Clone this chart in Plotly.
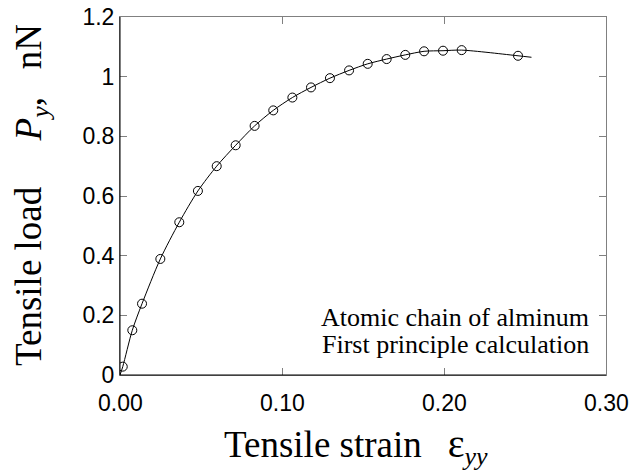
import plotly.graph_objects as go

# Data
strain = [0.0017, 0.0076, 0.0136, 0.0249, 0.0366, 0.0481, 0.0597, 0.0714,
          0.0831, 0.0946, 0.1064, 0.1179, 0.1296, 0.1414, 0.1529, 0.1646,
          0.1761, 0.1877, 0.1994, 0.2109, 0.2457]
load = [0.028, 0.150, 0.239, 0.389, 0.512, 0.617, 0.700, 0.770,
        0.835, 0.887, 0.930, 0.964, 0.995, 1.021, 1.043, 1.059,
        1.073, 1.085, 1.087, 1.089, 1.070]

# Smooth fitted curve: starts at origin, runs through the points, extends a bit past the last one
fit_start = (0.0, 0.0)
fit_end = (0.254, 1.065)
fit_strain = [fit_start[0]] + strain + [fit_end[0]]
fit_load = [fit_start[1]] + load + [fit_end[1]]

x_ticks = [0.0, 0.1, 0.2, 0.3]
x_tick_text = ["0.00", "0.10", "0.20", "0.30"]
y_ticks = [0, 0.2, 0.4, 0.6, 0.8, 1.0, 1.2]
y_tick_text = ["0", "0.2", "0.4", "0.6", "0.8", "1", "1.2"]

NB = "\u00a0"
x_title = ("Tensile strain" + NB * 2 + "\u2009"
           + "<span style='font-size:40px'>ε</span><sub><i>yy</i></sub>")
y_title = "Tensile load" + NB * 5 + "<i>P<sub>y</sub></i>," + NB * 3 + "nN"
note_lines = ["Atomic chain of alminum", "First principle calculation"]

fig = go.Figure()
fig.add_trace(go.Scatter(x=fit_strain, y=fit_load, mode="lines",
                         line=dict(color="black", width=1, shape="spline", smoothing=0.8),
                         hoverinfo="skip", showlegend=False))
fig.add_trace(go.Scatter(x=strain, y=load, mode="markers",
                         marker=dict(symbol="circle-open", size=9, color="black",
                                     line=dict(width=1, color="black")),
                         showlegend=False))

tick_font = dict(family="Liberation Sans, Arial, sans-serif", size=23, color="black")
common = dict(showgrid=False, zeroline=False, ticks="inside", ticklen=7,
              tickcolor="#808080", tickwidth=1, automargin=False,
              showline=True, linecolor="#808080", linewidth=1, mirror="ticks",
              tickfont=tick_font, ticklabeloverflow="allow")

fig.update_layout(
    template="none",
    width=635, height=464,
    margin=dict(l=112, r=37, t=9, b=97, autoexpand=False),
    paper_bgcolor="white", plot_bgcolor="white",
    xaxis=dict(range=[0, 0.3], tickvals=x_ticks, showticklabels=False, **common),
    yaxis=dict(range=[0, 1.2], tickvals=y_ticks, ticktext=y_tick_text, **common),
    font=dict(family="Liberation Serif, Times New Roman, serif", color="black"),
    showlegend=False,
)

# black left and bottom frame edges (top/right stay grey)
fig.add_shape(type="line", xref="paper", yref="paper", x0=0, y0=0, x1=0, y1=1,
              line=dict(color="black", width=1), layer="above")
fig.add_shape(type="line", xref="paper", yref="paper", x0=0, y0=0, x1=1, y1=0,
              line=dict(color="black", width=1), layer="above")

# x tick labels, placed a little further below the axis than plotly's default
for v, t in zip(x_ticks, x_tick_text):
    fig.add_annotation(text=t, xref="x", yref="paper", x=v, y=0,
                       xanchor="center", yanchor="middle", yshift=-28,
                       showarrow=False, font=tick_font)

serif = dict(family="Liberation Serif, Times New Roman, serif", color="black")
fig.add_annotation(text=x_title, xref="paper", yref="paper", x=0.5, y=0,
                   xanchor="center", yanchor="middle", xshift=-7, yshift=-71,
                   showarrow=False, font=dict(size=37, **serif))
fig.add_annotation(text=y_title, xref="paper", yref="paper", x=0, y=0.5,
                   xanchor="center", yanchor="middle", xshift=-89, yshift=1,
                   textangle=-90, showarrow=False, font=dict(size=37, **serif))
fig.add_annotation(text=note_lines[0], xref="x", yref="y", x=0.291, y=0.194,
                   xanchor="right", yanchor="middle", showarrow=False,
                   font=dict(size=26, **serif))
fig.add_annotation(text=note_lines[1], xref="x", yref="y", x=0.291, y=0.1006,
                   xanchor="right", yanchor="middle", showarrow=False,
                   font=dict(size=26, **serif))

fig.write_html("out.html")
